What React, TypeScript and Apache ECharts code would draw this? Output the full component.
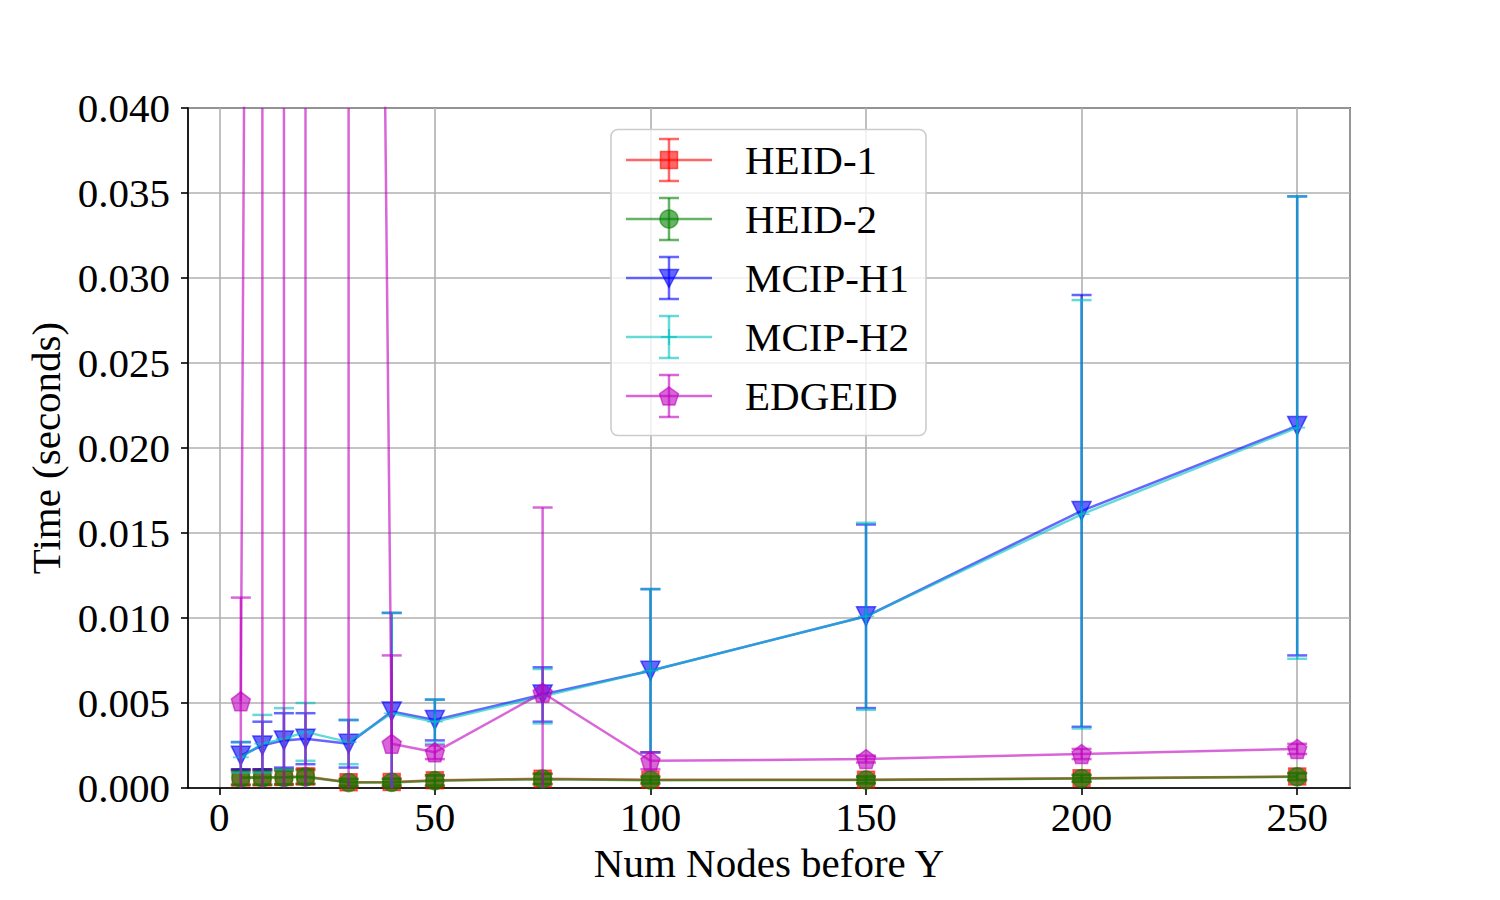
import React, { useEffect, useRef } from "react";
import * as echarts from "echarts";

// ---------- data ----------
const xValues = [5, 10, 15, 20, 30, 40, 50, 75, 100, 150, 200, 250];
const seriesNames = ["HEID-1", "HEID-2", "MCIP-H1", "MCIP-H2", "EDGEID"];

const heid1Mean = [0.00062, 0.00063, 0.00065, 0.00068, 0.00034, 0.00035, 0.00045, 0.00055, 0.00048, 0.00048, 0.00058, 0.00068];
const heid1Err = [0.00045, 0.00045, 0.00045, 0.00045, 0.0002, 0.0002, 0.0003, 0.0003, 0.0002, 0.0002, 0.0002, 0.0002];
const heid2Mean = [0.0006, 0.0006, 0.00062, 0.00065, 0.00032, 0.00033, 0.00043, 0.00052, 0.00046, 0.00047, 0.00056, 0.00066];
const heid2Err = [0.0004, 0.0004, 0.0004, 0.0004, 0.0002, 0.0002, 0.0003, 0.0003, 0.0002, 0.0002, 0.0002, 0.0002];
const mcipH1Mean = [0.0019, 0.0025, 0.0028, 0.0029, 0.0026, 0.0045, 0.004, 0.0055, 0.0069, 0.0101, 0.0163, 0.0213];
const mcipH1Err = [0.0008, 0.0014, 0.0016, 0.0015, 0.0014, 0.0058, 0.0012, 0.0016, 0.0048, 0.0054, 0.0127, 0.0135];
const mcipH2Mean = [0.0018, 0.0026, 0.0029, 0.0033, 0.0027, 0.0044, 0.0039, 0.0054, 0.0069, 0.0101, 0.0161, 0.0212];
const mcipH2Err = [0.0009, 0.0017, 0.0018, 0.0017, 0.0013, 0.0059, 0.0013, 0.0016, 0.0048, 0.0055, 0.0126, 0.0136];
const edgeMean = [0.0051, 0.24, 0.21, 0.23, 0.25, 0.0026, 0.0021, 0.0056, 0.0016, 0.0017, 0.002, 0.0023];
const edgeErr = [0.0061, 0.55, 0.5, 0.52, 0.6, 0.0052, 0.0004, 0.0109, 0.0005, 0.0002, 0.0003, 0.0003];

const means = [heid1Mean, heid2Mean, mcipH1Mean, mcipH2Mean, edgeMean];
const errs = [heid1Err, heid2Err, mcipH1Err, mcipH2Err, edgeErr];

const yMin = 0;
const yMax = 0.04;
const yInterval = 0.005;
const xMin = -7.25;
const xMax = 262.25;

// ---------- styles ----------
const FONT = "'Liberation Serif', 'Times New Roman', serif";
const FS = 41;
const LW = 2.5;
const COLORS = [
  "rgba(255,0,0,0.6)",
  "rgba(0,128,0,0.6)",
  "rgba(0,0,255,0.6)",
  "rgba(0,191,191,0.6)",
  "rgba(191,0,191,0.6)",
];
const PLUS = "path://M9,0 H11 V9 H20 V11 H11 V20 H9 V11 H0 V9 H9 Z";
const PENT = "path://M10,0 L19.5,6.9 L15.9,18.1 L4.1,18.1 L0.5,6.9 Z";
const SYMBOLS = ["rect", "circle", "triangle", PLUS, PENT];
const SYMBOL_SIZES = [17, 18, 19, 16, 19];
const SYMBOL_ROT = [0, 0, 180, 0, 0];

function buildLegend() {
  const Z = 100;
  const children: any[] = [];
  children.push({
    type: "rect",
    z: Z,
    shape: { x: 611, y: 129.5, width: 315, height: 306, r: 7 },
    style: { fill: "rgba(255,255,255,0.8)", stroke: "#cccccc", lineWidth: 1.6 },
  });
  seriesNames.forEach((name, i) => {
    const cy = 160 + i * 59;
    const cx = 669;
    const c = COLORS[i];
    const ls = { stroke: c, lineWidth: LW };
    children.push({ type: "line", z: Z + 1, shape: { x1: 626, y1: cy, x2: 712, y2: cy }, style: ls });
    children.push({ type: "line", z: Z + 1, shape: { x1: cx, y1: cy - 21, x2: cx, y2: cy + 21 }, style: ls });
    children.push({ type: "line", z: Z + 1, shape: { x1: cx - 10, y1: cy - 21, x2: cx + 10, y2: cy - 21 }, style: ls });
    children.push({ type: "line", z: Z + 1, shape: { x1: cx - 10, y1: cy + 21, x2: cx + 10, y2: cy + 21 }, style: ls });
    const mstyle = { fill: c, stroke: c, lineWidth: 1.5 };
    if (i === 0) {
      children.push({ type: "rect", z: Z + 2, shape: { x: cx - 8.5, y: cy - 8.5, width: 17, height: 17 }, style: mstyle });
    } else if (i === 1) {
      children.push({ type: "circle", z: Z + 2, shape: { cx, cy, r: 9 }, style: mstyle });
    } else if (i === 2) {
      children.push({ type: "polygon", z: Z + 2, shape: { points: [[cx - 9.5, cy - 8.5], [cx + 9.5, cy - 8.5], [cx, cy + 9.5]] }, style: mstyle });
    } else if (i === 3) {
      children.push({ type: "line", z: Z + 2, shape: { x1: cx - 8, y1: cy, x2: cx + 8, y2: cy }, style: { stroke: c, lineWidth: 2 } });
      children.push({ type: "line", z: Z + 2, shape: { x1: cx, y1: cy - 8, x2: cx, y2: cy + 8 }, style: { stroke: c, lineWidth: 2 } });
    } else {
      const pts: number[][] = [];
      for (let k = 0; k < 5; k++) {
        const a = (-90 + k * 72) * Math.PI / 180;
        pts.push([cx + 10 * Math.cos(a), cy + 1 + 10 * Math.sin(a)]);
      }
      children.push({ type: "polygon", z: Z + 2, shape: { points: pts }, style: mstyle });
    }
    children.push({
      type: "text",
      z: Z + 2,
      x: 745,
      y: cy,
      style: { text: name, font: `${FS}px ${FONT}`, fill: "#000", textVerticalAlign: "middle", textAlign: "left" },
    });
  });
  return [{ type: "group", z: Z, children }];
}

function errorBarSeries(i: number) {
  const color = COLORS[i];
  const data = xValues.map((x, k) => [x, means[i][k] - errs[i][k], means[i][k] + errs[i][k]]);
  return {
    type: "custom",
    name: seriesNames[i] + " err",
    z: 2 + i * 2,
    silent: true,
    data,
    encode: { x: 0, y: [1, 2] },
    renderItem: (params: any, api: any) => {
      const x = api.value(0);
      const lo = api.value(1);
      const hi = api.value(2);
      const cs = params.coordSys;
      const px = api.coord([x, yMin])[0];
      const pLo = api.coord([x, lo])[1];
      const pHi = api.coord([x, hi])[1];
      const top = cs.y;
      const bottom = cs.y + cs.height;
      const y1 = Math.min(Math.max(pHi, top), bottom);
      const y2 = Math.min(Math.max(pLo, top), bottom);
      const st = { stroke: color, lineWidth: LW };
      const ch: any[] = [{ type: "line", shape: { x1: px, y1, x2: px, y2 }, style: st }];
      if (pHi >= top && pHi <= bottom) ch.push({ type: "line", shape: { x1: px - 10, y1: pHi, x2: px + 10, y2: pHi }, style: st });
      if (pLo >= top && pLo <= bottom) ch.push({ type: "line", shape: { x1: px - 10, y1: pLo, x2: px + 10, y2: pLo }, style: st });
      return { type: "group", children: ch };
    },
  };
}

function lineSeries(i: number) {
  const color = COLORS[i];
  return {
    type: "line",
    name: seriesNames[i],
    z: 3 + i * 2,
    silent: true,
    clip: true,
    data: xValues.map((x, k) => [x, means[i][k]]),
    symbol: SYMBOLS[i],
    symbolSize: SYMBOL_SIZES[i],
    symbolRotate: SYMBOL_ROT[i],
    showAllSymbol: true,
    lineStyle: { color, width: LW },
    itemStyle: { color, borderColor: color, borderWidth: i === 3 ? 0 : 1.5 },
    emphasis: { disabled: true },
  };
}

export default function App() {
  const ref = useRef<HTMLDivElement>(null);
  useEffect(() => {
    if (!ref.current) return;
    const chart = echarts.init(ref.current, undefined, { renderer: "svg" });
    const series: any[] = [];
    for (let i = 0; i < seriesNames.length; i++) {
      series.push(errorBarSeries(i));
      series.push(lineSeries(i));
    }
    chart.setOption({
      animation: false,
      backgroundColor: "#ffffff",
      grid: {
        left: 188,
        top: 108,
        width: 1162,
        height: 680,
        show: true,
        borderColor: "#000000",
        borderWidth: 1.6,
        backgroundColor: "transparent",
      },
      xAxis: {
        type: "value",
        min: xMin,
        max: xMax,
        splitNumber: 5,
        name: "Num Nodes before Y",
        nameLocation: "middle",
        nameGap: 54,
        nameTextStyle: { fontFamily: FONT, fontSize: FS, color: "#000" },
        axisLine: { show: true, onZero: false, lineStyle: { color: "#000", width: 1.6 } },
        axisTick: { show: true, length: 7, lineStyle: { color: "#000", width: 1.6 } },
        axisLabel: {
          showMinLabel: false,
          showMaxLabel: false,
          margin: 8,
          fontFamily: FONT,
          fontSize: FS,
          color: "#000",
          formatter: (v: number) => (Math.abs(v - Math.round(v)) < 1e-9 && Math.round(v) % 50 === 0 ? String(Math.round(v)) : ""),
        },
        splitLine: { show: true, lineStyle: { color: "#b0b0b0", width: 1.6 } },
      },
      yAxis: {
        type: "value",
        min: yMin,
        max: yMax,
        interval: yInterval,
        name: "Time (seconds)",
        nameLocation: "middle",
        nameGap: 122,
        nameTextStyle: { fontFamily: FONT, fontSize: FS, color: "#000" },
        axisLine: { show: true, onZero: false, lineStyle: { color: "#000", width: 1.6 } },
        axisTick: { show: true, length: 7, lineStyle: { color: "#000", width: 1.6 } },
        axisLabel: {
          margin: 18,
          fontFamily: FONT,
          fontSize: FS,
          color: "#000",
          formatter: (v: number) => v.toFixed(3),
        },
        splitLine: { show: true, lineStyle: { color: "#b0b0b0", width: 1.6 } },
      },
      graphic: buildLegend(),
      series,
    });
    return () => chart.dispose();
  }, []);
  return (
    <div
      ref={ref}
      style={{ position: "absolute", left: 0, top: 0, width: 1500, height: 900, background: "#fff" }}
    />
  );
}
